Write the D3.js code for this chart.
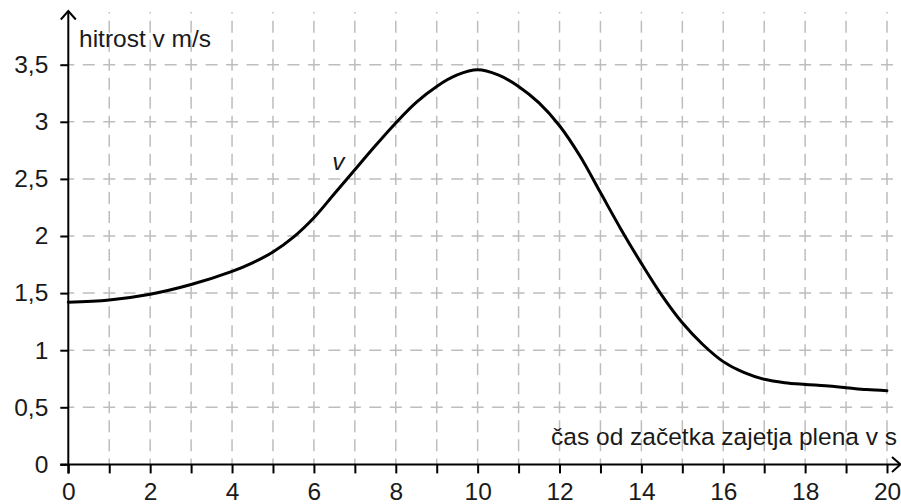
<!DOCTYPE html>
<html>
<head>
<meta charset="utf-8">
<script src="https://cdn.jsdelivr.net/npm/d3@7"></script>
<style>
  body { margin: 0; background: #fff; }
  svg { display: block; }
  text { font-family: "Liberation Sans", Arial, sans-serif; fill: #1a1a1a; }
</style>
</head>
<body>
<svg width="901" height="504"></svg>
<script>
// podatki (odčitani s slike)
const times = [0, 1, 2, 3, 4, 4.5, 5, 5.5, 6, 6.5, 7, 7.5, 8, 8.5, 9, 9.5, 10, 10.5, 11, 11.5, 12,
  12.5, 13, 13.5, 14, 14.5, 15, 15.5, 16, 16.5, 17, 17.5, 18, 18.5, 19, 19.5, 20];
const speeds = [1.42, 1.44, 1.49, 1.575, 1.69, 1.765, 1.86, 1.99, 2.16, 2.37, 2.58, 2.79, 2.99, 3.17, 3.31, 3.41, 3.455, 3.41, 3.31, 3.165, 2.965,
  2.70, 2.38, 2.06, 1.76, 1.48, 1.24, 1.05, 0.90, 0.805, 0.745, 0.715, 0.70, 0.688, 0.672, 0.655, 0.645];
const xTicks = d3.range(0, 21, 1);
const yTicks = d3.range(0, 3.51, 0.5);
const xLabel = "čas od začetka zajetja plena v s";
const yLabel = "hitrost v m/s";
const seriesName = "v";

const svg = d3.select("svg");
const width = +svg.attr("width");
const height = +svg.attr("height");

const x = d3.scaleLinear().domain([0, 20]).range([68.3, 887]);
const y = d3.scaleLinear().domain([0, 3.5]).range([464.4, 64.7]);

const fontSize = 24.5;
const gridColor = "#bdbdbd";

// mreža - vodoravne črte
const hPeriod = (x(1) - x(0)) / 2;
svg.append("g")
  .selectAll("line")
  .data(yTicks.filter(d => d > 0))
  .join("line")
  .attr("x1", x(0))
  .attr("x2", width - 2)
  .attr("y1", d => y(d))
  .attr("y2", d => y(d))
  .attr("stroke", gridColor)
  .attr("stroke-width", 1.5)
  .attr("stroke-dasharray", `12 ${hPeriod - 12}`)
  .attr("stroke-dashoffset", 6);

// mreža - navpične črte
const vPeriod = (y(0) - y(0.5)) / 3;
svg.append("g")
  .selectAll("line")
  .data(xTicks.filter(d => d > 0))
  .join("line")
  .attr("x1", d => x(d))
  .attr("x2", d => x(d))
  .attr("y1", y(0))
  .attr("y2", 12)
  .attr("stroke", gridColor)
  .attr("stroke-width", 1.5)
  .attr("stroke-dasharray", `12 ${vPeriod - 12}`)
  .attr("stroke-dashoffset", 6);

// osi
const xAxis = d3.axisBottom(x)
  .tickValues(xTicks)
  .tickSize(9)
  .tickPadding(9.5)
  .tickSizeOuter(0)
  .tickFormat(d => d % 2 === 0 ? d : "");

const yAxis = d3.axisLeft(y)
  .tickValues(yTicks)
  .tickSize(8)
  .tickPadding(12)
  .tickSizeOuter(0)
  .tickFormat(d => String(d).replace(".", ","));

const gx = svg.append("g")
  .attr("transform", `translate(0,${y(0)})`)
  .call(xAxis);
const gy = svg.append("g")
  .attr("transform", `translate(${x(0)},0)`)
  .call(yAxis);

[gx, gy].forEach(g => {
  g.select(".domain").remove();
  g.selectAll(".tick line").attr("stroke", "#000").attr("stroke-width", 2);
  g.selectAll(".tick text")
    .attr("font-size", fontSize)
    .attr("font-family", "Liberation Sans, Arial, sans-serif")
    .attr("fill", "#1a1a1a");
});

// glavni črti osi s puščicama
svg.append("line")
  .attr("x1", x(0) - 8).attr("x2", width - 1)
  .attr("y1", y(0)).attr("y2", y(0))
  .attr("stroke", "#000").attr("stroke-width", 2);
svg.append("line")
  .attr("x1", x(0)).attr("x2", x(0))
  .attr("y1", y(0) + 9).attr("y2", 11)
  .attr("stroke", "#000").attr("stroke-width", 2);

svg.append("path")
  .attr("d", `M ${x(0) - 7.5} 19.5 L ${x(0)} 11 L ${x(0) + 7.5} 19.5`)
  .attr("fill", "none").attr("stroke", "#000").attr("stroke-width", 2);
svg.append("path")
  .attr("d", `M ${width - 9} ${y(0) - 7.5} L ${width - 0.5} ${y(0)} L ${width - 9} ${y(0) + 7.5}`)
  .attr("fill", "none").attr("stroke", "#000").attr("stroke-width", 2);

// krivulja hitrosti
const data = times.map((t, i) => ({ t: t, v: speeds[i] }));
const line = d3.line()
  .x(d => x(d.t))
  .y(d => y(d.v))
  .curve(d3.curveCatmullRom.alpha(0.5));

svg.append("path")
  .datum(data)
  .attr("d", line)
  .attr("fill", "none")
  .attr("stroke", "#000")
  .attr("stroke-width", 3)
  .attr("stroke-linecap", "round");

// napisi
svg.append("text")
  .attr("x", 79).attr("y", 47)
  .attr("font-size", fontSize)
  .text(yLabel);

svg.append("text")
  .attr("x", 897).attr("y", 445)
  .attr("text-anchor", "end")
  .attr("font-size", fontSize)
  .text(xLabel);

svg.append("text")
  .attr("x", x(6.45)).attr("y", y(2.58))
  .attr("font-size", fontSize)
  .attr("font-style", "italic")
  .text(seriesName);
</script>
</body>
</html>
